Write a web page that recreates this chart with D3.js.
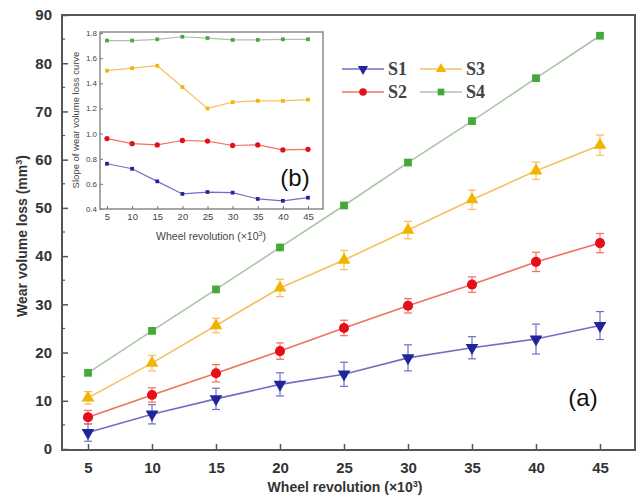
<!DOCTYPE html>
<html lang="en">
<head>
<meta charset="utf-8">
<title>Wear volume loss</title>
<script src="https://cdnjs.cloudflare.com/ajax/libs/d3/7.8.5/d3.min.js"></script>
<style>
  html, body { margin: 0; padding: 0; background: white; }
  svg { display: block; font-family: Arial, "Liberation Sans", sans-serif; }
</style>
</head>
<body>
<svg id="chart" width="638" height="499"></svg>
<script>
// ---- data ----
var revolutions = [5, 10, 15, 20, 25, 30, 35, 40, 45];
var seriesNames = ["S1", "S2", "S3", "S4"];

// main plot (a): wear volume loss, mm^3
var s1Loss = [3.4, 7.2, 10.4, 13.4, 15.5, 18.9, 21.0, 22.8, 25.6];
var s2Loss = [6.6, 11.2, 15.7, 20.3, 25.1, 29.7, 34.1, 38.8, 42.7];
var s3Loss = [10.6, 17.8, 25.6, 33.4, 39.2, 45.4, 51.7, 57.7, 63.0];
var s4Loss = [15.8, 24.5, 33.1, 41.8, 50.5, 59.4, 68.0, 76.9, 85.7];
// error bars (+/-)
var s1Err = [1.8, 2.0, 2.2, 2.4, 2.5, 2.7, 2.3, 3.1, 2.9];
var s2Err = [1.4, 1.5, 1.8, 1.7, 1.6, 1.5, 1.6, 2.0, 2.0];
var s3Err = [1.3, 1.6, 1.5, 1.8, 2.0, 1.8, 2.0, 1.8, 2.1];
var s4Err = [0.4, 0.4, 0.4, 0.4, 0.4, 0.4, 0.4, 0.4, 0.4];

// inset (b): slope of wear volume loss curve
var s1Slope = [0.76, 0.72, 0.62, 0.52, 0.535, 0.53, 0.48, 0.465, 0.49];
var s2Slope = [0.96, 0.92, 0.91, 0.945, 0.94, 0.905, 0.91, 0.87, 0.875];
var s3Slope = [1.50, 1.52, 1.54, 1.37, 1.20, 1.25, 1.26, 1.26, 1.27];
var s4Slope = [1.74, 1.74, 1.75, 1.77, 1.76, 1.745, 1.745, 1.75, 1.75];

var mainTicksY = [0, 10, 20, 30, 40, 50, 60, 70, 80, 90];
var insetTicksY = [0.4, 0.6, 0.8, 1.0, 1.2, 1.4, 1.6, 1.8];

var markerColor = {S1: "#23239a", S2: "#e3101a", S3: "#f2b400", S4: "#46a83a"};
var lineColor   = {S1: "#6f70c4", S2: "#f2705e", S3: "#f6c060", S4: "#a9c6a4"};
var symbolType  = {S1: d3.symbolTriangle, S2: d3.symbolCircle, S3: d3.symbolTriangle, S4: d3.symbolSquare};

var loss  = {S1: s1Loss, S2: s2Loss, S3: s3Loss, S4: s4Loss};
var err   = {S1: s1Err, S2: s2Err, S3: s3Err, S4: s4Err};
var slope = {S1: s1Slope, S2: s2Slope, S3: s3Slope, S4: s4Slope};

var svg = d3.select("#chart");

//---------------------------------------------
// main plot
//---------------------------------------------
var box = {left: 62, right: 635, top: 15, bottom: 450};
var x = d3.scaleLinear().domain([5, 45]).range([88, 600]);
var y = d3.scaleLinear().domain([0, 90]).range([449, 15]);

var main = svg.append("g");

// series lines, error bars, markers
seriesNames.forEach(function (name) {
  var pts = revolutions.map(function (r, i) { return {x: r, y: loss[name][i], e: err[name][i]}; });
  var g = main.append("g");

  g.append("path")
    .datum(pts)
    .attr("d", d3.line().x(function (d) { return x(d.x); }).y(function (d) { return y(d.y); }))
    .style("fill", "none")
    .style("stroke", lineColor[name])
    .style("stroke-width", 1.6);

  var eb = g.selectAll(".eb").data(pts).enter().append("g");
  eb.append("line")
    .attr("x1", function (d) { return x(d.x); }).attr("x2", function (d) { return x(d.x); })
    .attr("y1", function (d) { return y(d.y - d.e); }).attr("y2", function (d) { return y(d.y + d.e); })
    .style("stroke", lineColor[name]).style("stroke-width", 1.2);
  [-1, 1].forEach(function (s) {
    eb.append("line")
      .attr("x1", function (d) { return x(d.x) - 4; }).attr("x2", function (d) { return x(d.x) + 4; })
      .attr("y1", function (d) { return y(d.y + s * d.e); }).attr("y2", function (d) { return y(d.y + s * d.e); })
      .style("stroke", lineColor[name]).style("stroke-width", 1.2);
  });

  var size = name === "S2" ? 80 : (name === "S4" ? 60 : 70);
  g.selectAll(".m").data(pts).enter().append("path")
    .attr("d", d3.symbol().type(symbolType[name]).size(size))
    .attr("transform", function (d) {
      return "translate(" + x(d.x) + "," + y(d.y) + ")" + (name === "S1" ? " rotate(180)" : "");
    })
    .style("fill", markerColor[name]);
});

// frame
main.append("rect")
  .attr("x", box.left).attr("y", box.top)
  .attr("width", box.right - box.left).attr("height", box.bottom - box.top)
  .style("fill", "none").style("stroke", "#555").style("stroke-width", 2);

// x ticks (inward) and labels
var xAxis = d3.axisBottom(x).tickValues(revolutions).tickSize(-6).tickPadding(12);
var gx = main.append("g").attr("transform", "translate(0," + box.bottom + ")").call(xAxis);
gx.select(".domain").remove();
gx.selectAll(".tick line").style("stroke", "#555").style("stroke-width", 1.5);
gx.selectAll(".tick text").style("font-size", "15px").style("font-weight", "bold").style("fill", "#333");

// y ticks (inward, with minor ticks)
var minorY = d3.range(5, 90, 10);
main.selectAll(".minorY").data(minorY).enter().append("line")
  .attr("x1", box.left).attr("x2", box.left + 3)
  .attr("y1", function (d) { return y(d); }).attr("y2", function (d) { return y(d); })
  .style("stroke", "#555").style("stroke-width", 1.2);
var yAxis = d3.axisLeft(y).tickValues(mainTicksY).tickSize(-6).tickPadding(10);
var gy = main.append("g").attr("transform", "translate(" + box.left + ",0)").call(yAxis);
gy.select(".domain").remove();
gy.selectAll(".tick line").style("stroke", "#555").style("stroke-width", 1.5);
gy.selectAll(".tick text").style("font-size", "15px").style("font-weight", "bold").style("fill", "#333");

// axis titles
main.append("text")
  .attr("x", 345).attr("y", 492)
  .attr("text-anchor", "middle")
  .style("font-size", "14px").style("font-weight", "bold").style("fill", "#333")
  .html("Wheel revolution (×10<tspan dy='-5' font-size='9px'>3</tspan><tspan dy='5'>)</tspan>");
main.append("text")
  .attr("transform", "translate(27,236) rotate(-90)")
  .attr("text-anchor", "middle")
  .style("font-size", "14px").style("font-weight", "bold").style("fill", "#333")
  .html("Wear volume loss (mm<tspan dy='-5' font-size='9px'>3</tspan><tspan dy='5'>)</tspan>");

main.append("text")
  .attr("x", 583).attr("y", 406)
  .attr("text-anchor", "middle")
  .style("font-size", "24px").style("fill", "#111")
  .text("(a)");

// legend
var legendPos = {S1: [342, 69], S3: [420, 69], S2: [342, 92], S4: [420, 92]};
seriesNames.forEach(function (name) {
  var p = legendPos[name];
  var lg = main.append("g").attr("transform", "translate(" + p[0] + "," + p[1] + ")");
  lg.append("line").attr("x1", 0).attr("x2", 42).attr("y1", 0).attr("y2", 0)
    .style("stroke", lineColor[name]).style("stroke-width", 1.6);
  lg.append("path")
    .attr("d", d3.symbol().type(symbolType[name]).size(45))
    .attr("transform", "translate(21,0)" + (name === "S1" ? " rotate(180)" : ""))
    .style("fill", markerColor[name]);
  lg.append("text").attr("x", 46).attr("y", 6)
    .style("font-family", "'Liberation Serif', 'DejaVu Serif', serif")
    .style("font-size", "18px").style("font-weight", "bold").style("fill", "#444")
    .text(name);
});

//---------------------------------------------
// inset (b)
//---------------------------------------------
var ib = {left: 100, right: 323, top: 32, bottom: 209};
var xi = d3.scaleLinear().domain([5, 45]).range([107, 308]);
var yi = d3.scaleLinear().domain([0.4, 1.8]).range([209, 33]);

var inset = svg.append("g");
inset.append("rect")
  .attr("x", ib.left).attr("y", ib.top)
  .attr("width", ib.right - ib.left).attr("height", ib.bottom - ib.top)
  .style("fill", "white").style("stroke", "#8a8a8a").style("stroke-width", 1.5);

seriesNames.forEach(function (name) {
  var pts = revolutions.map(function (r, i) { return {x: r, y: slope[name][i]}; });
  inset.append("path")
    .datum(pts)
    .attr("d", d3.line().x(function (d) { return xi(d.x); }).y(function (d) { return yi(d.y); }))
    .style("fill", "none").style("stroke", lineColor[name]).style("stroke-width", 1.2);
  inset.selectAll(null).data(pts).enter().append("path")
    .attr("d", d3.symbol().type(name === "S2" ? d3.symbolCircle : d3.symbolSquare).size(name === "S2" ? 22 : 14))
    .attr("transform", function (d) { return "translate(" + xi(d.x) + "," + yi(d.y) + ")"; })
    .style("fill", markerColor[name]);
});

var xiAxis = d3.axisBottom(xi).tickValues(revolutions).tickSize(-3).tickPadding(4);
var gxi = inset.append("g").attr("transform", "translate(0," + ib.bottom + ")").call(xiAxis);
gxi.select(".domain").remove();
gxi.selectAll(".tick line").style("stroke", "#777");
gxi.selectAll(".tick text").style("font-size", "9.5px").style("fill", "#444");

var yiAxis = d3.axisLeft(yi).tickValues(insetTicksY).tickSize(-3).tickPadding(3)
  .tickFormat(d3.format(".1f"));
var gyi = inset.append("g").attr("transform", "translate(" + ib.left + ",0)").call(yiAxis);
gyi.select(".domain").remove();
gyi.selectAll(".tick line").style("stroke", "#777");
gyi.selectAll(".tick text").style("font-size", "8px").style("fill", "#444");

inset.append("text")
  .attr("x", 211).attr("y", 240)
  .attr("text-anchor", "middle")
  .style("font-size", "10.5px").style("fill", "#444")
  .html("Wheel revolution (×10<tspan dy='-4' font-size='7px'>3</tspan><tspan dy='4'>)</tspan>");
inset.append("text")
  .attr("transform", "translate(79,120) rotate(-90)")
  .attr("text-anchor", "middle")
  .style("font-size", "9.5px").style("fill", "#444")
  .text("Slope of wear volume loss curve");

inset.append("text")
  .attr("x", 295).attr("y", 186)
  .attr("text-anchor", "middle")
  .style("font-size", "24px").style("fill", "#111")
  .text("(b)");
</script>
</body>
</html>
